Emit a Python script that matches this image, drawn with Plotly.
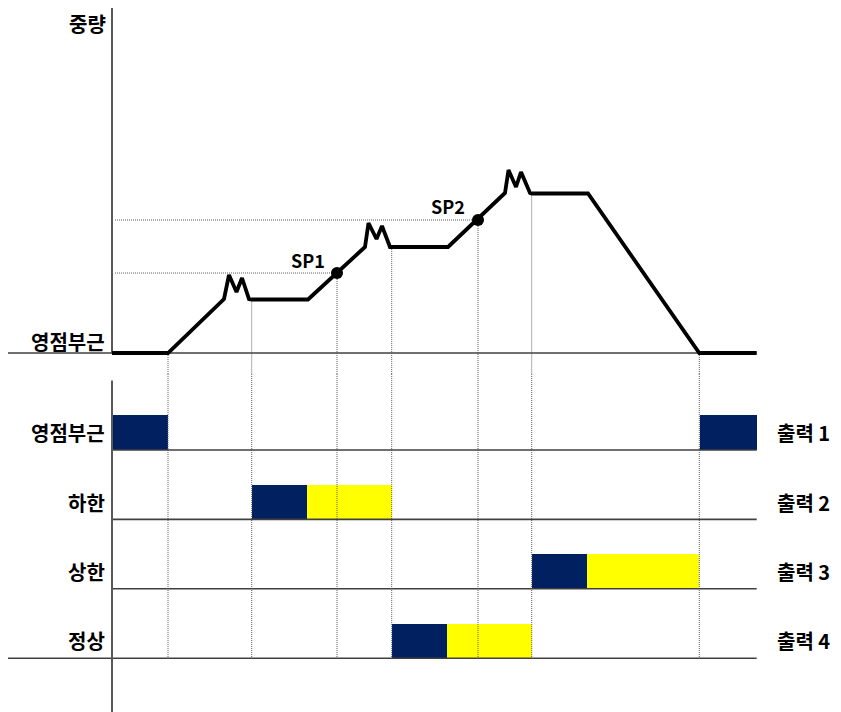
import plotly.graph_objects as go

# ---------------- data (time units along x, weight units above the zero line) -------------
curve_t = [112, 168, 224, 229, 236.5, 242, 249, 251.7, 308, 365, 368.5, 376.5, 382, 390, 391.7,
           448, 505, 508.5, 516, 521, 530, 531.7, 588, 699.3, 756.7]
curve_w = [0, 0, 54, 78, 61, 75, 54, 53.5, 53.5, 106, 130, 114, 127, 106, 106,
           106, 160, 183, 166, 181, 160, 159.5, 159.5, 0, 0]

sp_names = ["SP1", "SP2"]
sp_t = [337, 478]
sp_w = [80, 133]
sp_label_t = [307.5, 448.3]
sp_label_w = [93.5, 146.7]

guide_t = [168, 251.7, 337, 391.7, 478, 531.7, 699.3]
guide_w = [0, 53.5, 80, 106, 133, 159.5, 0]

row_names = ["영점부근", "하한", "상한", "정상"]
out_names = ["출력 1", "출력 2", "출력 3", "출력 4"]
# output bars: (row index, start, end, phase)
bar_row = [0, 0, 1, 1, 2, 2, 3, 3]
bar_start = [112, 700, 251.7, 307.3, 531.7, 587.3, 391.7, 447]
bar_end = [168, 756.7, 307.3, 391.7, 587.3, 699.3, 447, 531.7]
bar_phase = ["on", "on", "on", "hold", "on", "hold", "on", "hold"]

T_START, T_END = 112, 756.7
NAVY, YELLOW = "#002060", "#FFFF00"
FONT = "Noto Sans CJK KR"

# page has an 8px body margin: the figure is sized/ranged to compensate
PAGE_OFF = 8
FIG_W, FIG_H = 841 - PAGE_OFF, 712 - PAGE_OFF
SPLIT = 366                     # figure pixel row where the two panels meet
W_MIN, W_MAX = -21, 345         # weight axis range
R_TOP, R_BOT = -0.095, 4.775    # row axis range

fig = go.Figure()

# ---- bars (timing rows) ----
for phase, col in [("on", NAVY), ("hold", YELLOW)]:
    idx = [i for i, p in enumerate(bar_phase) if p == phase]
    fig.add_trace(go.Bar(
        orientation="h",
        y=[bar_row[i] + 0.75 for i in idx],
        x=[bar_end[i] - bar_start[i] for i in idx],
        base=[bar_start[i] for i in idx],
        width=0.5, marker=dict(color=col, line=dict(width=0)),
        yaxis="y2", hoverinfo="skip", showlegend=False))

DOT = dict(color="#5f5f5f", width=1, dash="1px,1px")
# ---- vertical dotted guides (top part on weight axis, bottom on row axis) ----
for t, w in zip(guide_t, guide_w):
    fig.add_trace(go.Scatter(x=[t, t], y=[w, W_MIN], mode="lines", line=DOT,
                             hoverinfo="skip", showlegend=False))
    fig.add_trace(go.Scatter(x=[t, t], y=[R_TOP, len(row_names)], mode="lines", yaxis="y2",
                             line=DOT, hoverinfo="skip", showlegend=False))

# ---- horizontal dotted SP lines ----
for t, w in zip(sp_t, sp_w):
    fig.add_trace(go.Scatter(x=[115, t], y=[w, w], mode="lines", line=DOT,
                             hoverinfo="skip", showlegend=False))

# ---- row separator lines ----
for i in range(len(row_names)):
    x0 = 6 if i == len(row_names) - 1 else T_START
    fig.add_trace(go.Scatter(x=[x0, T_END], y=[i + 1, i + 1], mode="lines", yaxis="y2",
                             line=dict(color="#404040", width=1.6),
                             hoverinfo="skip", showlegend=False))

# ---- vertical axes lines ----
fig.add_trace(go.Scatter(x=[T_START, T_START], y=[0, W_MAX], mode="lines",
                         line=dict(color="#595959", width=2), hoverinfo="skip", showlegend=False))
fig.add_trace(go.Scatter(x=[T_START, T_START], y=[0, R_BOT], mode="lines", yaxis="y2",
                         line=dict(color="#595959", width=2), hoverinfo="skip", showlegend=False))
# zero line of the weight chart
fig.add_trace(go.Scatter(x=[6, T_END], y=[0, 0], mode="lines",
                         line=dict(color="#404040", width=1.6), hoverinfo="skip", showlegend=False))

# ---- weight curve ----
fig.add_trace(go.Scatter(x=curve_t, y=curve_w, mode="lines",
                         line=dict(color="black", width=3.8),
                         hoverinfo="skip", showlegend=False))
fig.add_trace(go.Scatter(x=sp_t, y=sp_w, mode="markers",
                         marker=dict(color="black", size=12),
                         hoverinfo="skip", showlegend=False))

LBL = dict(family=FONT, size=20, color="black", weight="bold")
ann = []
for name, t, w in zip(sp_names, sp_label_t, sp_label_w):
    ann.append(dict(x=t, y=w, text=name, showarrow=False, xanchor="center", yanchor="middle",
                    font=dict(family=FONT, size=18, color="black", weight="bold"),
                    xref="x", yref="y"))
ann.append(dict(x=107, y=330, text="중량", showarrow=False, xanchor="right", yanchor="middle",
                font=LBL, xref="x", yref="y", borderpad=0))
ann.append(dict(x=107, y=12, text="영점부근", showarrow=False, xanchor="right", yanchor="middle",
                font=LBL, xref="x", yref="y"))
for i, (rn, on) in enumerate(zip(row_names, out_names)):
    ann.append(dict(x=107, y=i + 0.75, text=rn, showarrow=False, xanchor="right", yanchor="middle",
                    font=LBL, xref="x", yref="y2"))
    ann.append(dict(x=775, y=i + 0.75, text=on, showarrow=False, xanchor="left", yanchor="middle",
                    font=LBL, xref="x", yref="y2"))

fig.update_layout(
    width=FIG_W, height=FIG_H, margin=dict(l=0, r=0, t=0, b=0),
    paper_bgcolor="white", plot_bgcolor="white",
    barmode="overlay", bargap=0,
    xaxis=dict(range=[PAGE_OFF, 841], visible=False, fixedrange=True),
    yaxis=dict(domain=[1 - SPLIT / FIG_H, 1], range=[W_MIN, W_MAX], visible=False),
    yaxis2=dict(domain=[0, 1 - SPLIT / FIG_H], range=[R_BOT, R_TOP], visible=False,
                anchor="x"),
    annotations=ann, showlegend=False,
)
fig.write_html("out.html")
